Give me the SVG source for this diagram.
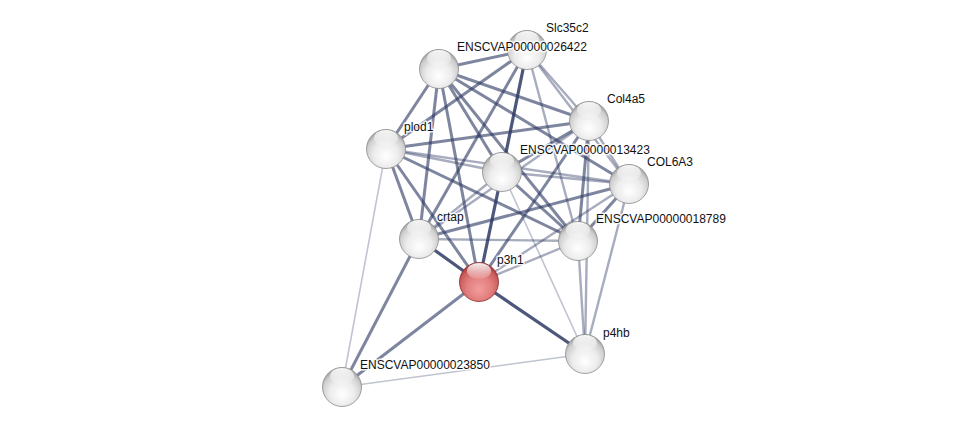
<svg xmlns="http://www.w3.org/2000/svg" width="975" height="432" viewBox="0 0 975 432">
<defs>
<radialGradient id="gw" cx="50%" cy="62%" r="58%" fx="50%" fy="70%">
<stop offset="0" stop-color="#ffffff"/>
<stop offset="0.55" stop-color="#ececec"/>
<stop offset="0.85" stop-color="#cfcfcf"/>
<stop offset="1" stop-color="#a4a4a4"/>
</radialGradient>
<radialGradient id="gr" cx="50%" cy="62%" r="58%" fx="50%" fy="70%">
<stop offset="0" stop-color="#f49c9c"/>
<stop offset="0.55" stop-color="#e27e7e"/>
<stop offset="0.85" stop-color="#cc5f5f"/>
<stop offset="1" stop-color="#a83a3a"/>
</radialGradient>
<linearGradient id="hl" x1="0" y1="0" x2="0" y2="1">
<stop offset="0" stop-color="#ffffff" stop-opacity="0.95"/>
<stop offset="1" stop-color="#ffffff" stop-opacity="0.1"/>
</linearGradient>
</defs>
<style>
.e{stroke:#2e3a64;fill:none;stroke-linecap:butt}
.d{stroke-width:3.2;stroke-opacity:0.85}
.m{stroke-width:3;stroke-opacity:0.62}
.l{stroke-width:2.4;stroke-opacity:0.42}
.t{stroke-width:1.6;stroke-opacity:0.3}
.n{fill:url(#gw);stroke:#8d8d8d;stroke-width:0.8}
.r{fill:url(#gr);stroke:#8a2c2c;stroke-width:0.8}
.h{fill:url(#hl)}
text{font-family:"Liberation Sans",Arial,sans-serif;font-size:12px;fill:#111;stroke:#fff;stroke-width:3;stroke-opacity:0.85;paint-order:stroke;stroke-linejoin:round}
</style>
<rect width="975" height="432" fill="#ffffff"/>
<g id="connectors">
<line class="e m" x1="439" y1="69" x2="527" y2="50"/>
<line class="e m" x1="439" y1="69" x2="386" y2="149"/>
<line class="e m" x1="439" y1="69" x2="419" y2="239"/>
<line class="e m" x1="439" y1="69" x2="479" y2="282"/>
<line class="e m" x1="439" y1="69" x2="502" y2="172"/>
<line class="e m" x1="439" y1="69" x2="589" y2="121"/>
<line class="e m" x1="439" y1="69" x2="629" y2="184"/>
<line class="e m" x1="439" y1="69" x2="578" y2="241"/>
<line class="e m" x1="527" y1="50" x2="386" y2="149"/>
<line class="e m" x1="527" y1="50" x2="419" y2="239"/>
<line class="e d" x1="527" y1="50" x2="502" y2="172"/>
<line class="e l" x1="527" y1="50" x2="589" y2="121"/>
<line class="e l" x1="527" y1="50" x2="629" y2="184"/>
<line class="e l" x1="527" y1="50" x2="578" y2="241"/>
<line class="e m" x1="386" y1="149" x2="589" y2="121"/>
<line class="e l" x1="386" y1="149" x2="502" y2="172"/>
<line class="e l" x1="386" y1="149" x2="629" y2="184"/>
<line class="e m" x1="386" y1="149" x2="578" y2="241"/>
<line class="e m" x1="386" y1="149" x2="419" y2="239"/>
<line class="e m" x1="386" y1="149" x2="479" y2="282"/>
<line class="e t" x1="386" y1="149" x2="342" y2="387"/>
<line class="e l" x1="502" y1="172" x2="419" y2="239"/>
<line class="e d" x1="502" y1="172" x2="479" y2="282"/>
<line class="e m" x1="502" y1="172" x2="578" y2="241"/>
<line class="e l" x1="502" y1="172" x2="629" y2="184"/>
<line class="e m" x1="502" y1="172" x2="589" y2="121"/>
<line class="e t" x1="502" y1="172" x2="585" y2="354"/>
<line class="e m" x1="419" y1="239" x2="629" y2="184"/>
<line class="e l" x1="419" y1="239" x2="589" y2="121"/>
<line class="e l" x1="419" y1="239" x2="578" y2="241"/>
<line class="e d" x1="419" y1="239" x2="479" y2="282"/>
<line class="e m" x1="419" y1="239" x2="342" y2="387"/>
<line class="e l" x1="479" y1="282" x2="578" y2="241"/>
<line class="e l" x1="479" y1="282" x2="629" y2="184"/>
<line class="e m" x1="479" y1="282" x2="589" y2="121"/>
<line class="e m" x1="479" y1="282" x2="342" y2="387"/>
<line class="e d" x1="479" y1="282" x2="585" y2="354"/>
<line class="e m" x1="578" y1="241" x2="629" y2="184"/>
<line class="e m" x1="578" y1="241" x2="589" y2="121"/>
<line class="e l" x1="578" y1="241" x2="585" y2="354"/>
<line class="e l" x1="589" y1="121" x2="629" y2="184"/>
<line class="e l" x1="589" y1="121" x2="585" y2="354"/>
<line class="e l" x1="629" y1="184" x2="585" y2="354"/>
<line class="e t" x1="342" y1="387" x2="585" y2="354"/>
</g>
<g id="Slc35c2"><circle class="n" cx="527" cy="50" r="19.5"/><ellipse class="h" cx="527" cy="39" rx="12" ry="8"/><text x="546" y="32">Slc35c2</text></g>
<g id="ENSCVAP00000026422"><circle class="n" cx="439" cy="69" r="19.5"/><ellipse class="h" cx="439" cy="58" rx="12" ry="8"/><text x="457" y="51">ENSCVAP00000026422</text></g>
<g id="Col4a5"><circle class="n" cx="589" cy="121" r="19.5"/><ellipse class="h" cx="589" cy="110" rx="12" ry="8"/><text x="607" y="103">Col4a5</text></g>
<g id="plod1"><circle class="n" cx="386" cy="149" r="19.5"/><ellipse class="h" cx="386" cy="138" rx="12" ry="8"/><text x="404" y="131">plod1</text></g>
<g id="COL6A3"><circle class="n" cx="629" cy="184" r="19.5"/><ellipse class="h" cx="629" cy="173" rx="12" ry="8"/><text x="647" y="166">COL6A3</text></g>
<g id="ENSCVAP00000013423"><circle class="n" cx="502" cy="172" r="19.5"/><ellipse class="h" cx="502" cy="161" rx="12" ry="8"/><text x="520" y="154">ENSCVAP00000013423</text></g>
<g id="crtap"><circle class="n" cx="419" cy="239" r="19.5"/><ellipse class="h" cx="419" cy="228" rx="12" ry="8"/><text x="437" y="221">crtap</text></g>
<g id="ENSCVAP00000018789"><circle class="n" cx="578" cy="241" r="19.5"/><ellipse class="h" cx="578" cy="230" rx="12" ry="8"/><text x="596" y="223">ENSCVAP00000018789</text></g>
<g id="p3h1"><circle class="r" cx="479" cy="282" r="19.5"/><ellipse class="h" cx="479" cy="271" rx="12" ry="8"/><text x="497" y="264">p3h1</text></g>
<g id="p4hb"><circle class="n" cx="585" cy="354" r="19.5"/><ellipse class="h" cx="585" cy="343" rx="12" ry="8"/><text x="603" y="337">p4hb</text></g>
<g id="ENSCVAP00000023850"><circle class="n" cx="342" cy="387" r="19.5"/><ellipse class="h" cx="342" cy="376" rx="12" ry="8"/><text x="360" y="369">ENSCVAP00000023850</text></g>
</svg>
